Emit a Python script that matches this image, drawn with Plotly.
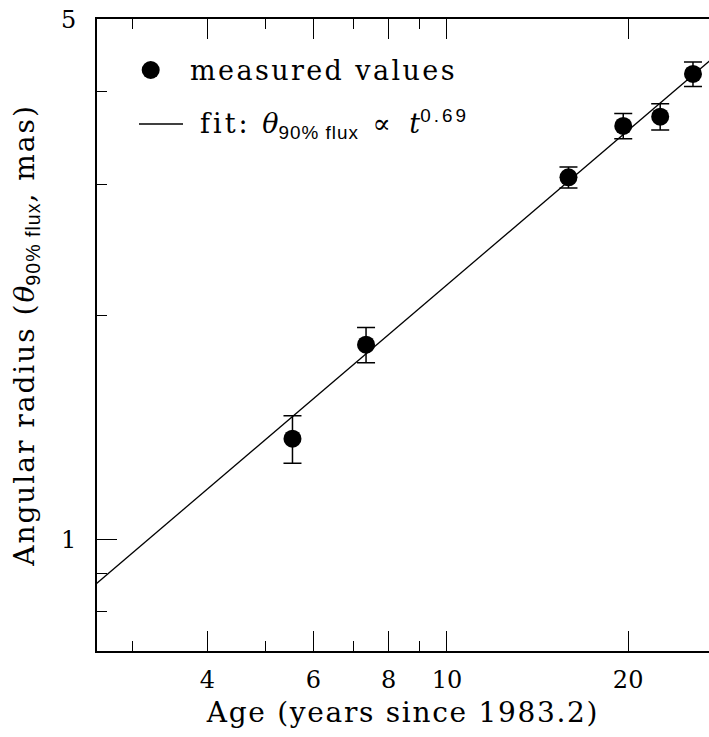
import numpy as np
import plotly.graph_objects as go

# Data
age_years = [5.54, 7.34, 15.92, 19.63, 22.61, 25.63]
theta_mas = [1.366, 1.827, 3.067, 3.595, 3.700, 4.223]
theta_err = [0.10, 0.10, 0.10, 0.14, 0.15, 0.16]

fit_age = [2.5, 30.0]
fit_theta = [0.845, 4.69]

x_major = [4, 6, 8, 10, 20]
x_major_labels = ["4", "6", "8", "10", "20"]
x_minor = [3, 5, 7, 9]
y_major = [1, 5]
y_major_labels = ["1", "5"]
y_minor = [0.8, 0.9, 2, 3, 4]

SERIF = "DejaVu Serif"

legend_labels = [
    "<span style=\"letter-spacing:2.4px\">measured values</span>",
    "<span style=\"letter-spacing:3px\">fit: </span><i>θ</i>"
    "<sub><span style=\"font-family:Liberation Sans;letter-spacing:1px\">90% flux</span></sub>"
    "<span style=\"letter-spacing:5px\"> ∝ </span><i>t</i>"
    "<sup><span style=\"font-family:Liberation Sans;letter-spacing:3px\">0.69</span></sup>",
]

# plot-area geometry (pixels) used to place the hand-made legend
W, H = 709, 737
ML, MR, MT, MB = 97, 0, 19, 86
PW, PH = W - ML - MR, H - MT - MB


def px(xp):
    return (xp - ML) / PW


def py(yp):
    return (H - MB - yp) / PH


fig = go.Figure()
fig.add_trace(go.Scatter(
    x=age_years, y=theta_mas, mode="markers",
    marker=dict(color="black", size=18, symbol="circle"),
    error_y=dict(type="data", array=theta_err, visible=True,
                 color="black", thickness=1.5, width=9),
    name="measured values", showlegend=False,
))
fig.add_trace(go.Scatter(
    x=fit_age, y=fit_theta, mode="lines",
    line=dict(color="black", width=1.3),
    name="fit", showlegend=False,
))

axis_common = dict(
    type="log", showline=True, linecolor="black", linewidth=2,
    ticks="inside", ticklen=20, tickwidth=1.3, tickcolor="black",
    showgrid=False, zeroline=False,
    tickfont=dict(family=SERIF, size=24, color="black"),
)

fig.update_xaxes(
    **axis_common,
    range=[np.log10(2.623), np.log10(27.25)],
    tickmode="array", tickvals=x_major, ticktext=x_major_labels,
    minor=dict(tickmode="array", tickvals=x_minor, ticklen=10,
               tickwidth=1.3, tickcolor="black", ticks="inside", showgrid=False),
    mirror="ticks", ticklabelstandoff=6,
    title=dict(text="<span style=\"letter-spacing:1.7px\">Age (years since 1983.2)</span>",
               font=dict(family=SERIF, size=28, color="black"), standoff=10),
)
fig.update_yaxes(
    **axis_common,
    range=[np.log10(0.708), np.log10(5) + 0.0005],
    tickmode="array", tickvals=y_major, ticktext=y_major_labels,
    minor=dict(tickmode="array", tickvals=y_minor, ticklen=10,
               tickwidth=1.3, tickcolor="black", ticks="inside", showgrid=False),
    mirror=False, ticklabelstandoff=14,
    title=dict(text=("<span style=\"letter-spacing:2px\">Angular radius (</span><i>θ</i>"
                     "<sub><span style=\"font-family:Liberation Sans;letter-spacing:1px\">90% flux</span></sub>"
                     "<span style=\"letter-spacing:2px\">, mas)</span>"),
               font=dict(family=SERIF, size=28, color="black"), standoff=18),
)

# hand-made legend (symbols + text), placed in paper coordinates
fig.add_shape(type="circle", xref="paper", yref="paper",
              x0=px(141.7), x1=px(159.7), y0=py(79), y1=py(61),
              fillcolor="black", line=dict(color="black", width=0))
fig.add_shape(type="line", xref="paper", yref="paper",
              x0=px(139), x1=px(183), y0=py(124), y1=py(124),
              line=dict(color="black", width=1.3))
fig.add_annotation(xref="paper", yref="paper", x=px(188), y=py(70),
                   xanchor="left", yanchor="middle", showarrow=False,
                   text=legend_labels[0],
                   font=dict(family=SERIF, size=27, color="black"))
fig.add_annotation(xref="paper", yref="paper", x=px(198), y=py(124),
                   xanchor="left", yanchor="middle", showarrow=False,
                   text=legend_labels[1],
                   font=dict(family=SERIF, size=27, color="black"))

fig.update_layout(
    width=W, height=H,
    margin=dict(l=ML, r=MR, t=MT, b=MB),
    paper_bgcolor="white", plot_bgcolor="white",
    showlegend=False,
)

fig.write_html("out.html")
